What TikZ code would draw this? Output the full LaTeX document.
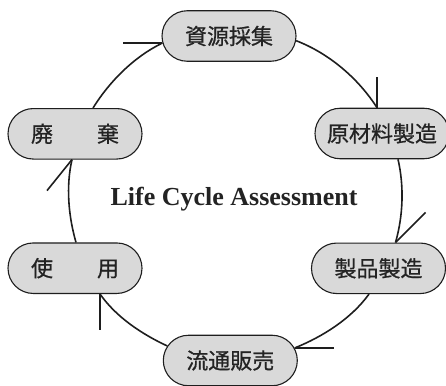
\documentclass[tikz,border=0pt]{standalone}
\usepackage{fontspec}
\setmainfont{Liberation Serif}
\newfontfamily\jpfont[FakeBold=0.7]{Noto Sans CJK JP}
\usetikzlibrary{shapes.misc}
\definecolor{boxfill}{RGB}{217,217,217}
\definecolor{ink}{RGB}{30,30,30}
\definecolor{txt}{RGB}{35,35,35}
\tikzset{
  stage/.style={rounded rectangle, draw=ink, line width=1.1pt, fill=boxfill,
    minimum width=134pt, minimum height=50.5pt, inner sep=0pt,
    font=\jpfont\fontsize{22}{26}\selectfont, text=txt},
  conn/.style={draw=ink, line width=1.6pt, looseness=0.85},
  barb/.style={draw=ink, line width=1.6pt}
}
\begin{document}
\begin{tikzpicture}[x=1pt,y=1pt]
\useasboundingbox (0,0) rectangle (446,-385);
\node[stage] (N1) at (229,-36) {資源採集};
\node[stage] (N2) at (382,-133.5) {原材料製造};
\node[stage] (N3) at (378.5,-268.3) {製品製造};
\node[stage] (N4) at (230.3,-360.5) {流通販売};
\node[stage] (N5) at (75,-268.2) {使　　用};
\node[stage] (N6) at (75,-133.8) {廃　　棄};
\node[font=\bfseries\fontsize{26}{30}\selectfont, text=txt] (T) at (234,-199) {Life Cycle Assessment};

\draw[conn] ([xshift=18pt]N6.north) to[out=58,in=206] (N1.186);
\draw[conn] (N1.-4) to[out=-21,in=122.5] ([xshift=-5pt]N2.north);
\draw[conn] ([xshift=16pt]N2.south) to[out=-77,in=74] ([xshift=17pt]N3.north);
\draw[conn] ([xshift=-9.5pt]N3.south) to[out=-126,in=22] (N4.11);
\draw[conn] (N4.167) to[out=155,in=-55] ([xshift=25pt]N5.south);
\draw[conn] ([xshift=1pt]N5.north) to[out=106,in=257] ([xshift=-3pt]N6.south);

\path (N1.186) ++(-39,0) coordinate (t1);
\path ([xshift=-5pt]N2.north) ++(0,31) coordinate (t2);
\path ([xshift=17pt]N3.north) ++(30,30) coordinate (t3);
\path (N4.11) ++(39,0) coordinate (t4);
\path ([xshift=25pt]N5.south) ++(0,-36) coordinate (t5);
\path ([xshift=-3pt]N6.south) ++(-25,-31) coordinate (t6);

\draw[barb] (N1.186) -- (t1);
\draw[barb] ([xshift=-5pt]N2.north) -- (t2);
\draw[barb] ([xshift=17pt]N3.north) -- (t3);
\draw[barb] (N4.11) -- (t4);
\draw[barb] ([xshift=25pt]N5.south) -- (t5);
\draw[barb] ([xshift=-3pt]N6.south) -- (t6);
\end{tikzpicture}
\end{document}
